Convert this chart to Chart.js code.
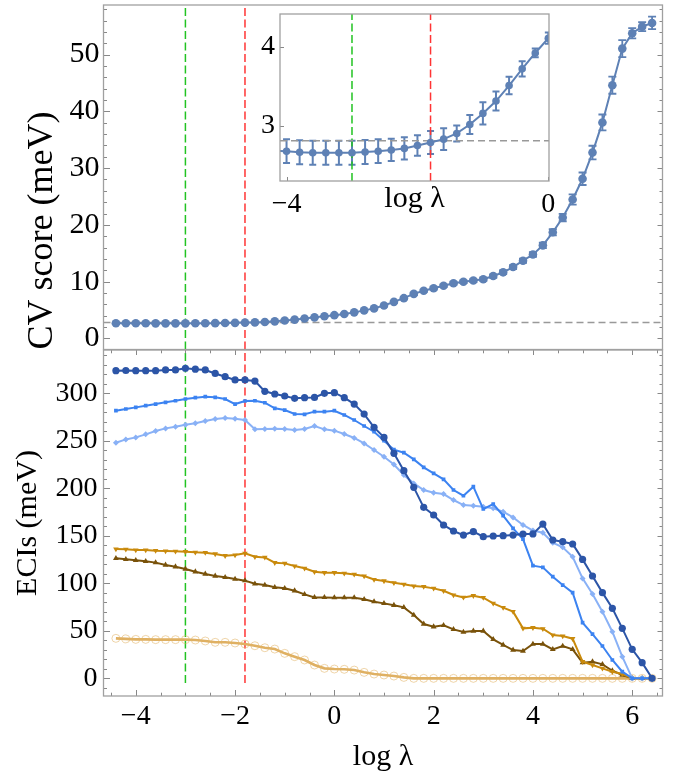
<!DOCTYPE html>
<html><head><meta charset="utf-8">
<script src="https://cdn.jsdelivr.net/npm/chart.js@4"></script>
<style>
html,body{margin:0;padding:0;background:#fff;}
#wrap{position:relative;width:678px;height:777px;overflow:hidden;background:#fff;}
canvas{position:absolute;left:0;top:0;}
</style></head><body>
<div id="wrap">
<canvas id="cTop" width="678" height="777"></canvas>
<canvas id="cBottom" width="678" height="777"></canvas>
<canvas id="cInset" width="678" height="777"></canvas>
</div>
<script>
// ---------- data ----------
const logLambda = [-4.4,-4.2,-4.0,-3.8,-3.6,-3.4,-3.2,-3.0,-2.8,-2.6,-2.4,-2.2,-2.0,-1.8,-1.6,-1.4,-1.2,-1.0,-0.8,-0.6,-0.4,-0.2,0.0,0.2,0.4,0.6,0.8,1.0,1.2,1.4,1.6,1.8,2.0,2.2,2.4,2.6,2.8,3.0,3.2,3.4,3.6,3.8,4.0,4.2,4.4,4.6,4.8,5.0,5.2,5.4,5.6,5.8,6.0,6.2,6.4];
const cvScore = [2.69,2.69,2.685,2.672,2.665,2.665,2.665,2.665,2.675,2.685,2.70,2.72,2.756,2.794,2.836,2.908,3.02,3.16,3.315,3.51,3.72,3.92,4.106,4.32,4.6,4.95,5.3,5.82,6.45,7.1,7.85,8.4,8.85,9.3,9.72,10.0,10.2,10.42,11.0,11.65,12.58,13.7,14.78,16.4,18.7,21.3,24.47,28.13,32.74,38.05,44.6,51.05,53.75,54.92,55.57];
const cvError = [0.15,0.15,0.15,0.15,0.15,0.15,0.15,0.15,0.15,0.15,0.14,0.14,0.13,0.145,0.137,0.10,0.12,0.14,0.12,0.11,0.095,0.055,0.07,0.08,0.1,0.12,0.14,0.16,0.18,0.2,0.2,0.2,0.22,0.22,0.24,0.24,0.26,0.28,0.3,0.32,0.35,0.38,0.42,0.48,0.55,0.65,0.9,1.1,1.2,1.4,1.5,1.5,0.9,0.8,1.1];
const eciDarkBlue = [323.8,324.0,323.8,323.8,323.8,324.6,324.6,326.4,325.4,324.6,320.9,317.5,314.1,314.1,312.9,302.1,299.3,297.2,294.7,295.4,295.7,300.0,300.7,295.4,288.7,278.2,264.2,253.6,236.8,218.6,201.0,180.0,171.9,161.4,155.1,150.8,154.4,149.1,149.8,150.2,150.8,151.9,152.0,162.4,145.6,143.8,141.4,125.2,107.7,90.2,73.7,52.6,30.5,16.5,0];
const eciBlue = [281.7,283.5,285.2,287.0,288.7,290.5,292.2,294.0,295.4,296.5,295.8,294.0,288.7,291.9,292.2,290.1,284.2,282.4,278.2,277.9,280.7,280.7,281.7,277.2,271.9,265.6,259.6,250.1,240.7,237.5,230.5,222.1,215.8,209.4,198.2,192.2,201.7,178.2,183.5,171.2,157.9,146.6,118.6,116.8,107.0,98.2,90.2,58.6,46.6,34.0,19.3,7.0,0,0,0];
const eciLightBlue = [248.0,251.5,253.6,256.8,260.3,263.1,264.9,267.0,268.4,270.8,272.9,274.0,273.3,271.9,262.1,262.4,262.8,262.4,261.4,262.4,265.6,262.1,260.7,257.2,253.0,247.3,240.3,233.3,225.0,214.0,205.2,198.2,195.4,194.0,187.7,182.4,181.7,180.7,178.9,175.4,169.4,161.4,155.5,153.3,142.8,137.9,128.0,105.2,88.7,70.2,49.1,22.8,0,0,0];
const eciOrange = [136.1,135.8,135.1,135.1,134.4,134.0,133.7,133.3,132.6,132.3,130.9,129.1,129.8,131.6,128.0,127.3,121.7,121.0,118.2,115.8,112.2,111.2,111.2,110.5,109.4,107.7,104.0,102.5,100.5,99.0,97.2,96.5,94.7,92.2,87.7,85.2,87.0,84.9,78.9,74.4,70.2,52.6,53.3,52.2,45.6,44.5,41.7,17.5,14.0,10.5,7.0,4.5,0,0,0];
const eciBrown = [126.3,125.3,124.2,123.2,121.8,119.3,117.5,115.1,112.2,109.8,107.7,106.3,104.5,102.8,99.5,98.2,95.8,94.7,92.2,88.4,85.2,85.2,84.9,84.9,84.9,83.2,80.7,78.9,77.0,74.7,66.6,57.2,54.3,55.8,51.5,48.7,49.8,49.8,41.0,35.1,29.8,28.7,36.1,36.1,30.5,34.0,30.5,16.5,17.5,14.7,8.0,3.5,0,0,0];
const eciTan = [42.1,41.5,41.0,41.0,40.7,40.7,40.7,40.7,40.3,39.3,37.9,37.9,37.2,36.1,34.3,32.2,30.8,26.3,22.8,19.3,14.0,10.5,9.8,9.5,8.7,6.3,4.5,3.5,2.4,1.0,0,0,0,0,0,0,0,0,0,0,0,0,0,0,0,0,0,0,0,0,0,0,0,0,0];
const greenLambda = -3.0;
const redLambda = -1.8;
const oneSEScore = 2.815;
const xTickLabels = [-4,-2,0,2,4,6];
const cvTickLabels = [0,10,20,30,40,50];
const eciTickLabels = [0,50,100,150,200,250,300];
const insetXTickLabels = [-4,0];
const insetYTickLabels = [3,4];

// ---------- axis ranges ----------
const X_MIN = -4.65, X_MAX = 6.61;
const CV_MIN = -1.94, CV_MAX = 58.73;
const ECI_MIN = -18.6, ECI_MAX = 345.6, ECI_LINE_BOTTOM = -5;
const IX_MIN = -4.1, IX_MAX = 0.01, IY_MIN = 2.31, IY_MAX = 4.41;

const SERIF = '"Liberation Serif", "Times New Roman", serif';
Chart.defaults.font.family = SERIF;
const CV_COLOR = '#5E81B5';
const GREEN = '#22c322', RED = '#ff3434', GRAY = '#999999';

const sf = size => ({family: SERIF, size: size, style: 'normal'});
const fmt = v => v < 0 ? '\u2212' + (-v) : String(v);
const fixY = w => s => { s.width = w; s.paddingTop = 0; s.paddingBottom = 0; s.paddingLeft = 0; s.paddingRight = 0; };
const fixX = h => s => { s.height = h; s.paddingTop = 0; s.paddingBottom = 0; s.paddingLeft = 0; s.paddingRight = 0; };
const setTicks = arr => s => { s.ticks = arr.map(v => ({value: v})); };
const pts = (xs, ys) => xs.map((x, i) => ({x, y: ys[i]}));

function multiples(min, max, step) {
  const out = [];
  for (let k = Math.ceil(min / step - 1e-9); k * step <= max + 1e-9; k++) out.push(+(k * step).toFixed(6));
  return out;
}

function makeFrame(cfg) {
  return {
    id: 'frame_' + cfg.name,
    afterDraw(chart) {
      const ctx = chart.ctx, a = chart.chartArea;
      const xs = chart.scales.x, ys = chart.scales.y;
      ctx.save();
      ctx.strokeStyle = '#888'; ctx.lineWidth = 1;
      ctx.beginPath();
      const doY = (vals, side, len) => vals.forEach(v => {
        const p = Math.round(ys.getPixelForValue(v)) + 0.5;
        if (p < a.top || p > a.bottom || len <= 0) return;
        if (side === 'left') { ctx.moveTo(a.left, p); ctx.lineTo(a.left + len, p); }
        else { ctx.moveTo(a.right, p); ctx.lineTo(a.right - len, p); }
      });
      const doX = (vals, side, len) => vals.forEach(v => {
        const p = Math.round(xs.getPixelForValue(v)) + 0.5;
        if (p < a.left || p > a.right || len <= 0) return;
        if (side === 'bottom') { ctx.moveTo(p, a.bottom); ctx.lineTo(p, a.bottom - len); }
        else { ctx.moveTo(p, a.top); ctx.lineTo(p, a.top + len); }
      });
      if (cfg.ty) {
        const minor = cfg.ty.minor ? multiples(ys.min, ys.max, cfg.ty.minor) : [];
        cfg.ty.sides.forEach(sd => { doY(minor, sd[0], sd[2]); doY(cfg.ty.major, sd[0], sd[1]); });
      }
      if (cfg.tx) {
        const minor = cfg.tx.minor ? multiples(xs.min, xs.max, cfg.tx.minor) : [];
        cfg.tx.sides.forEach(sd => { doX(minor, sd[0], sd[2]); doX(cfg.tx.major, sd[0], sd[1]); });
      }
      ctx.stroke();
      ctx.strokeStyle = '#a0a0a0'; ctx.lineWidth = 1.3;
      ctx.strokeRect(a.left, a.top, a.right - a.left, a.bottom - a.top);
      ctx.restore();
    }
  };
}

function makeErrBars(name, width, cap) {
  return {
    id: 'err_' + name,
    beforeDatasetsDraw(chart) {
      const ctx = chart.ctx, a = chart.chartArea;
      const x = chart.scales.x, y = chart.scales.y;
      ctx.save();
      ctx.beginPath(); ctx.rect(a.left, a.top, a.right - a.left, a.bottom - a.top); ctx.clip();
      ctx.strokeStyle = CV_COLOR; ctx.lineWidth = width;
      ctx.beginPath();
      logLambda.forEach((lx, i) => {
        const px = x.getPixelForValue(lx);
        const p1 = y.getPixelForValue(cvScore[i] - cvError[i]);
        const p2 = y.getPixelForValue(cvScore[i] + cvError[i]);
        ctx.moveTo(px, p1); ctx.lineTo(px, p2);
        ctx.moveTo(px - cap, p1); ctx.lineTo(px + cap, p1);
        ctx.moveTo(px - cap, p2); ctx.lineTo(px + cap, p2);
      });
      ctx.stroke();
      ctx.restore();
    }
  };
}

function vline(xv, y0, y1, color) {
  return {data: [{x: xv, y: y0}, {x: xv, y: y1}], borderColor: color, borderWidth: 1.5,
    borderDash: [8, 3.5], pointRadius: 0, fill: false, clip: 0};
}
function hline(yv, x0, x1) {
  return {data: [{x: x0, y: yv}, {x: x1, y: yv}], borderColor: GRAY, borderWidth: 1.5,
    borderDash: [7, 4], pointRadius: 0, fill: false, clip: 0};
}
function ser(vals, color, style, extra) {
  return Object.assign({
    data: pts(logLambda, vals), borderColor: color, backgroundColor: color,
    pointBackgroundColor: color, pointBorderColor: color, pointBorderWidth: 0,
    borderWidth: 2, pointStyle: style, pointRadius: 3, clip: 0
  }, extra || {});
}
const quiet = () => ({legend: {display: false}, tooltip: {enabled: false}});

const charts = [];

charts.push(new Chart(document.getElementById('cTop'), {
  type: 'line',
  data: {datasets: [
    {data: pts(logLambda, cvScore), borderColor: CV_COLOR, backgroundColor: CV_COLOR,
     pointBackgroundColor: CV_COLOR, pointBorderWidth: 0, pointRadius: 4.3, borderWidth: 2, clip: 0},
    hline(oneSEScore, X_MIN, X_MAX),
    vline(greenLambda, CV_MIN, CV_MAX, GREEN),
    vline(redLambda, CV_MIN, CV_MAX, RED)
  ]},
  options: {
    responsive: false, animation: false, events: [],
    layout: {padding: {left: 0, top: 5, right: 15.5, bottom: 427.5}},
    plugins: quiet(),
    scales: {
      x: {type: 'linear', min: X_MIN, max: X_MAX, display: false},
      y: {type: 'linear', min: CV_MIN, max: CV_MAX,
        afterFit: fixY(103.5), afterBuildTicks: setTicks(cvTickLabels),
        grid: {display: false, drawTicks: false}, border: {display: false},
        ticks: {callback: fmt, color: '#000', padding: 4, font: sf(30)},
        title: {display: true, text: 'CV score (meV)', color: '#000', align: 'start',
          padding: {top: 21, bottom: 0}, font: sf(36)}}
    }
  },
  plugins: [makeErrBars('top', 1.8, 4),
    makeFrame({name: 'top', ty: {major: cvTickLabels, minor: 2, sides: [['left', 6.5, 3.5], ['right', 5, 3]]}})]
}));

charts.push(new Chart(document.getElementById('cBottom'), {
  type: 'line',
  data: {datasets: [
    ser(eciDarkBlue, '#2c55a7', 'circle', {pointRadius: 3.6}),
    ser(eciBlue, '#3c83f1', 'rect', {pointRadius: 2.6}),
    ser(eciLightBlue, '#89b1f6', 'rectRot', {pointRadius: 3}),
    ser(eciOrange, '#c98a0c', 'triangle', {pointRadius: 3.2, pointRotation: 180}),
    ser(eciBrown, '#79520a', 'triangle', {pointRadius: 3.4}),
    ser(eciTan, '#dfb062', 'circle', {pointRadius: 4, pointBackgroundColor: 'rgba(255,255,255,0)',
      pointBorderColor: 'rgba(226,178,100,0.55)', pointBorderWidth: 1, borderWidth: 2.6}),
    vline(greenLambda, ECI_LINE_BOTTOM, ECI_MAX, GREEN),
    vline(redLambda, ECI_LINE_BOTTOM, ECI_MAX, RED)
  ]},
  options: {
    responsive: false, animation: false, events: [],
    layout: {padding: {left: 0, top: 350, right: 15.5, bottom: 0}},
    plugins: quiet(),
    scales: {
      x: {type: 'linear', min: X_MIN, max: X_MAX,
        afterFit: fixX(81), afterBuildTicks: setTicks(xTickLabels),
        grid: {display: false, drawTicks: false}, border: {display: false},
        ticks: {callback: fmt, color: '#000', padding: 4, maxRotation: 0, autoSkip: false, font: sf(28)},
        title: {display: true, text: 'log \u03bb', color: '#000', padding: {top: 0, bottom: 2}, font: sf(30)}},
      y: {type: 'linear', min: ECI_MIN, max: ECI_MAX,
        afterFit: fixY(103.5), afterBuildTicks: setTicks(eciTickLabels),
        grid: {display: false, drawTicks: false}, border: {display: false},
        ticks: {callback: fmt, color: '#000', padding: 6, font: sf(28)},
        title: {display: true, text: 'ECIs (meV)', color: '#000', padding: {top: 10, bottom: 0}, font: sf(30)}}
    }
  },
  plugins: [makeFrame({name: 'bottom',
    ty: {major: eciTickLabels, minor: 10, sides: [['left', 6.5, 3.5], ['right', 5, 3]]},
    tx: {major: xTickLabels, minor: 0.5, sides: [['bottom', 6, 3.3], ['top', 5, 3.3]]}})]
}));

charts.push(new Chart(document.getElementById('cInset'), {
  type: 'line',
  data: {datasets: [
    {data: pts(logLambda, cvScore), borderColor: CV_COLOR, backgroundColor: CV_COLOR,
     pointBackgroundColor: CV_COLOR, pointBorderWidth: 0, pointRadius: 3.8, borderWidth: 2, clip: 0},
    hline(oneSEScore, IX_MIN, IX_MAX),
    vline(greenLambda, IY_MIN, IY_MAX, GREEN),
    vline(redLambda, IY_MIN, IY_MAX, RED)
  ]},
  options: {
    responsive: false, animation: false, events: [],
    layout: {padding: {left: 0, top: 14, right: 129, bottom: 556}},
    plugins: quiet(),
    scales: {
      x: {type: 'linear', min: IX_MIN, max: IX_MAX,
        afterFit: fixX(40), afterBuildTicks: setTicks(insetXTickLabels),
        grid: {display: false, drawTicks: false}, border: {display: false},
        ticks: {callback: fmt, color: '#000', padding: 7, maxRotation: 0, autoSkip: false, font: sf(28)},
        title: {display: true, text: 'log \u03bb', color: '#000', padding: {top: 0, bottom: 4}, font: sf(30)}},
      y: {type: 'linear', min: IY_MIN, max: IY_MAX,
        afterFit: fixY(280), afterBuildTicks: setTicks(insetYTickLabels),
        grid: {display: false, drawTicks: false}, border: {display: false},
        ticks: {callback: fmt, color: '#000', padding: 5, font: sf(28)}}
    }
  },
  plugins: [makeErrBars('inset', 2, 3.5),
    makeFrame({name: 'inset', ty: {major: insetYTickLabels, sides: [['left', 4, 0]]},
      tx: {major: insetXTickLabels, sides: [['bottom', 4, 0]]}})]
}));

const redraw = () => charts.forEach(c => c.update('none'));
setTimeout(redraw, 120);
if (document.fonts && document.fonts.ready) document.fonts.ready.then(redraw);
</script>
</body></html>
